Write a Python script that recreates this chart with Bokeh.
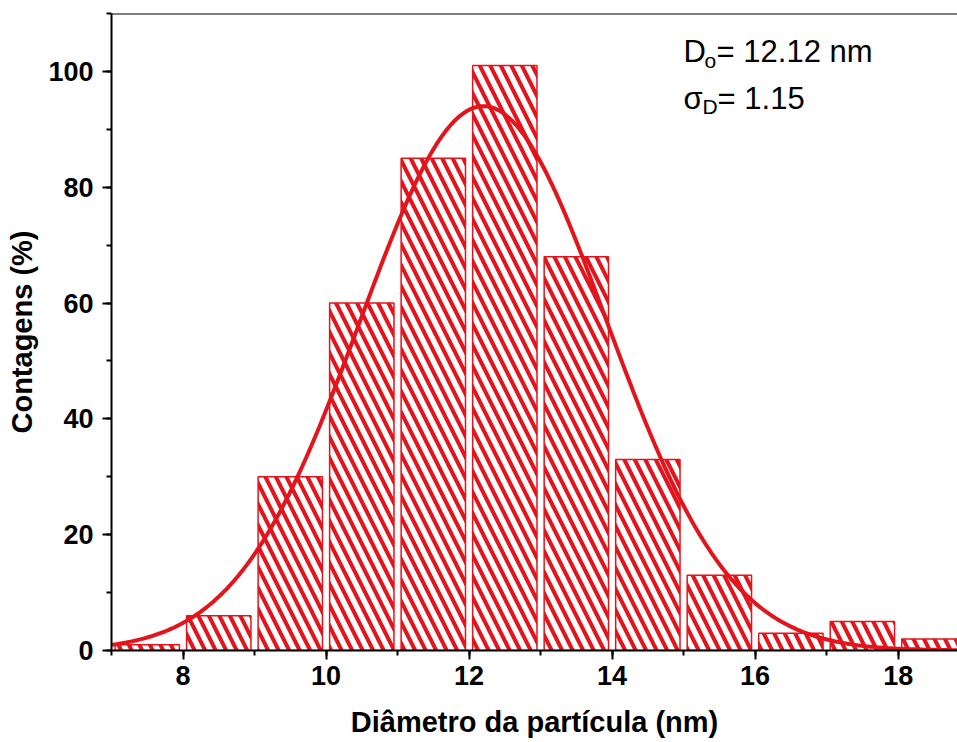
import numpy as np
from bokeh.plotting import figure
from bokeh.models import Range1d, Span, Label, SingleIntervalTicker
from bokeh.embed import file_html
from bokeh.resources import INLINE

# ---- data ----
bin_centers = [7.5, 8.5, 9.5, 10.5, 11.5, 12.5, 13.5, 14.5, 15.5, 16.5, 17.5, 18.5]
counts = [1, 6, 30, 60, 85, 101, 68, 33, 13, 3, 5, 2]
bar_width = 0.9

# Gaussian fit parameters (estimated from the drawn curve)
fit_amplitude = 94.0
fit_center = 12.2
fit_sigma = 1.72

x_ticks = [8, 10, 12, 14, 16, 18]
y_ticks = [0, 20, 40, 60, 80, 100]

RED = "#e3141c"
FONT = "Liberation Sans"

X_START, X_END = 7.0, 18.83
Y_START, Y_END = 0.0, 110.0

p = figure(width=957, height=742, output_backend="svg", toolbar_location=None,
           x_range=Range1d(X_START, X_END), y_range=Range1d(Y_START, Y_END),
           min_border_left=111, min_border_right=0, min_border_top=13,
           min_border_bottom=92)
p.outline_line_color = None
p.grid.visible = False
p.background_fill_color = "white"
p.border_fill_color = "white"

p.vbar(x=bin_centers, top=counts, width=bar_width, bottom=0,
       fill_color="white", line_color=RED, line_width=1.5,
       hatch_pattern="\\", hatch_color=RED, hatch_weight=4, hatch_scale=21)

fit_x = np.linspace(X_START, X_END, 400)
fit_y = fit_amplitude * np.exp(-(fit_x - fit_center) ** 2 / (2 * fit_sigma ** 2))
p.line(fit_x, fit_y, line_color=RED, line_width=4)

p.add_layout(Span(location=Y_END, dimension="width", line_color="black", line_width=2))

for ax, ticks in ((p.xaxis[0], x_ticks), (p.yaxis[0], y_ticks)):
    step = ticks[1] - ticks[0]
    ax.ticker = SingleIntervalTicker(interval=step, num_minor_ticks=2)
    ax.axis_line_width = 2
    ax.axis_line_color = "black"
    ax.major_tick_line_width = 2
    ax.minor_tick_line_width = 2
    ax.major_tick_in = 0
    ax.major_tick_out = 9
    ax.minor_tick_in = 0
    ax.minor_tick_out = 5
    ax.major_label_text_font = FONT
    ax.major_label_text_font_style = "bold"
    ax.major_label_text_font_size = "27px"
    ax.major_label_text_color = "black"
    ax.axis_label_text_font = FONT
    ax.axis_label_text_font_style = "bold"
    ax.axis_label_text_font_size = "29px"
    ax.axis_label_text_color = "black"

p.xaxis.axis_label = "Diâmetro da partícula (nm)"
p.yaxis.axis_label = "Contagens (%)"
p.xaxis.major_label_standoff = 6
p.yaxis.major_label_standoff = 9
p.xaxis.axis_label_standoff = 18
p.yaxis.axis_label_standoff = 7

# annotation  D_o = 12.12 nm / sigma_D = 1.15
ann_x = 15.0
line1_y = 103.4
line2_y = 95.3
sub_drop = 1.55
big = "31px"
small = "21px"

def lab(text, y, xoff, size):
    p.add_layout(Label(x=ann_x, y=y, x_offset=xoff, text=text, text_font=FONT,
                       text_font_size=size, text_color="black",
                       text_baseline="alphabetic", text_align="left"))

lab("D", line1_y, 0, big)
lab("o", line1_y - sub_drop, 21, small)
lab("= 12.12 nm", line1_y, 33, big)
lab("σ", line2_y, 0, big)
lab("D", line2_y - sub_drop * 0.9, 19, small)
lab("= 1.15", line2_y, 34, big)

open("out.html", "w").write(file_html(p, INLINE))
